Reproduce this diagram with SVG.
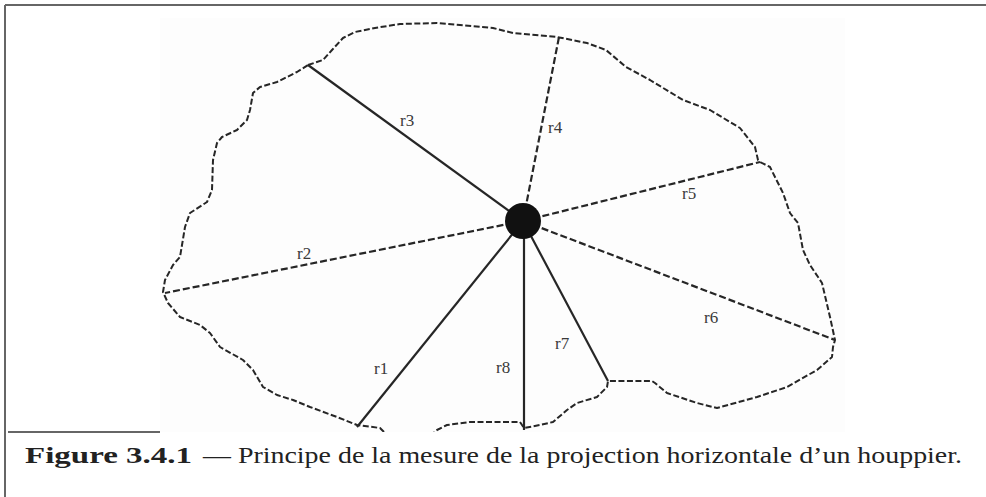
<svg xmlns="http://www.w3.org/2000/svg" width="986" height="497" viewBox="0 0 986 497">
<style>
.frame{stroke:#666;stroke-width:2;fill:none}
.outline{fill:none;stroke:#262626;stroke-width:2;stroke-dasharray:6 2.5;stroke-linejoin:round}
.solid{stroke:#262626;stroke-width:2.2;fill:none}
.dash{stroke:#262626;stroke-width:2.2;fill:none;stroke-dasharray:7 3}
.lbl{font-family:"Liberation Serif",serif;font-size:17px;fill:#3a3a3a}
.cap{font-family:"Liberation Serif",serif;font-size:24px;fill:#222}
</style>
<defs>
<clipPath id="clip"><rect x="0" y="0" width="986" height="432"/></clipPath>
</defs>
<rect x="160" y="18" width="685" height="414" fill="#fdfdfd"/>
<g id="frame">
<line class="frame" x1="5" y1="5" x2="986" y2="5"/>
<line class="frame" x1="5" y1="5" x2="5" y2="497"/>
<line class="frame" x1="8" y1="432" x2="160" y2="432" stroke-width="1.5"/>
</g>
<g id="crown" clip-path="url(#clip)">
<polyline class="outline" points="308,65 323,60 332,50 343,38 355,32 375,28 400,24 437,23 460,25 493,28 513,33 557,37 587,43 606,50 626,67 650,80 683,100 710,110 740,128 755,147 758,160 760,162 770,167 783,193 790,213 798,223 803,250 810,265 822,283 830,317 835,340 833,347 832,357 817,370 787,387 757,397 717,408 697,403 667,393 655,383 652,381 608,381 607,387 597,397 577,403 567,410 553,422 540,425 524,428 520,422 470,422 447,425 437,430 428,438"/>
<polyline class="outline" points="390,438 380,428 357,425 337,417 310,407 293,400 277,395 263,387 253,370 243,360 220,347 210,333 200,325 180,317 168,303 163,292 165,280 173,265 180,257 185,227 190,213 207,202 212,190 213,160 217,143 222,137 237,130 247,120 250,110 253,93 260,87 277,82 297,72 308,65"/>
</g>
<g id="radii">
<line id="r1" class="solid" x1="523" y1="221" x2="357" y2="427"/>
<line id="r2" class="dash" x1="523" y1="221" x2="165" y2="293"/>
<line id="r3" class="solid" x1="523" y1="221" x2="308" y2="65"/>
<line id="r4" class="dash" x1="523" y1="221" x2="559" y2="37"/>
<line id="r5" class="dash" x1="523" y1="221" x2="760" y2="162"/>
<line id="r6" class="dash" x1="523" y1="221" x2="835" y2="340"/>
<line id="r7" class="solid" x1="523" y1="221" x2="608" y2="381"/>
<line id="r8" class="solid" x1="524" y1="221" x2="524" y2="430"/>
</g>
<g id="centre">
<circle cx="523" cy="221" r="18" fill="#111"/>
</g>
<g id="labels">
<text class="lbl" x="400" y="126">r3</text>
<text class="lbl" x="548" y="133">r4</text>
<text class="lbl" x="682" y="199">r5</text>
<text class="lbl" x="297" y="259">r2</text>
<text class="lbl" x="374" y="374">r1</text>
<text class="lbl" x="496" y="373">r8</text>
<text class="lbl" x="555" y="349">r7</text>
<text class="lbl" x="704" y="323">r6</text>
</g>
<g id="caption">
<text class="cap" x="25" y="463" font-weight="bold" textLength="167" lengthAdjust="spacingAndGlyphs">Figure 3.4.1</text>
<text class="cap" x="203" y="463" textLength="759" lengthAdjust="spacingAndGlyphs">— Principe de la mesure de la projection horizontale d’un houppier.</text>
</g>
</svg>
